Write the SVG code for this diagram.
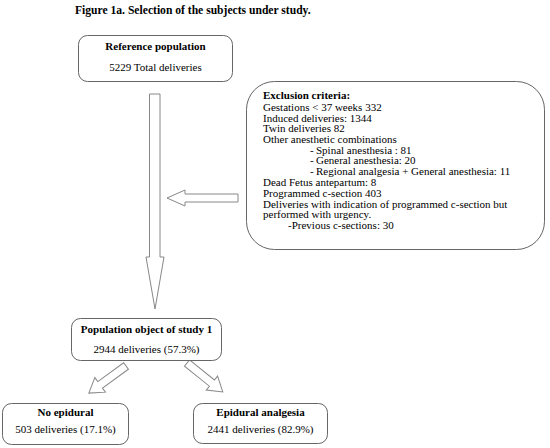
<svg xmlns="http://www.w3.org/2000/svg" width="550" height="448" viewBox="0 0 550 448">
<style>
text{font-family:"Liberation Serif","Times New Roman",serif;font-size:11px;fill:#000}
.b{font-weight:bold}
.c{text-anchor:middle}
.box{fill:#fff;stroke:#666;stroke-width:1}
.arr{fill:#fff;stroke:#888;stroke-width:1}
</style>
<rect width="550" height="448" fill="#fff"/>
<text x="75" y="14" class="b" style="font-size:11.6px">Figure 1a. Selection of the subjects under study.</text>
<g id="connectors">
<polygon class="arr" points="149.5,94 160,94 160,257 164,257 155,309 146,257 149.5,257"/>
<polygon class="arr" points="238,194 185,194 185,190 167,198 185,206 185,202 238,202"/>
<g transform="translate(126,366) rotate(143.9)"><polygon class="arr" points="0,-4 32,-4 32,-9 46,0 32,9 32,4 0,4"/></g>
<g transform="translate(187,363) rotate(38.9)"><polygon class="arr" points="0,-4 32,-4 32,-9 46,0 32,9 32,4 0,4"/></g>
</g>
<g id="reference">
<rect class="box" x="78.5" y="35.5" width="154" height="46" rx="9"/>
<text x="155.5" y="50" class="b c">Reference population</text>
<text x="155.5" y="71" class="c">5229 Total deliveries</text>
</g>
<g id="exclusion">
<rect class="box" x="246.5" y="81.5" width="298" height="168" rx="28"/>
<text x="263" y="99" class="b">Exclusion criteria:</text>
<text x="263" y="110.5">Gestations &lt; 37 weeks 332</text>
<text x="263" y="121.5">Induced deliveries: 1344</text>
<text x="263" y="132">Twin deliveries 82</text>
<text x="263" y="143">Other anesthetic combinations</text>
<text x="310" y="153.5">-</text><text x="316" y="153.5">Spinal anesthesia : 81</text>
<text x="310" y="164">-</text><text x="316" y="164">General anesthesia: 20</text>
<text x="310" y="175">-</text><text x="316" y="175">Regional analgesia + General anesthesia: 11</text>
<text x="263" y="186">Dead Fetus antepartum:  8</text>
<text x="263" y="196.5">Programmed c-section 403</text>
<text x="263" y="207.5">Deliveries with indication of programmed c-section but</text>
<text x="263" y="218">performed with urgency.</text>
<text x="288" y="229">-Previous c-sections: 30</text>
</g>
<g id="population">
<rect class="box" x="71.5" y="318.5" width="150" height="42" rx="9"/>
<text x="146.5" y="333" class="b c">Population object of study 1</text>
<text x="146.5" y="353" class="c">2944 deliveries (57.3%)</text>
</g>
<g id="noepidural">
<rect class="box" x="2.5" y="403.5" width="126" height="41" rx="9"/>
<text x="65.5" y="416" class="b c">No epidural</text>
<text x="65.5" y="433" class="c">503 deliveries (17.1%)</text>
</g>
<g id="epidural">
<rect class="box" x="193.5" y="403.5" width="134" height="40" rx="9"/>
<text x="260.5" y="416" class="b c">Epidural analgesia</text>
<text x="260.5" y="433" class="c">2441 deliveries (82.9%)</text>
</g>
</svg>
